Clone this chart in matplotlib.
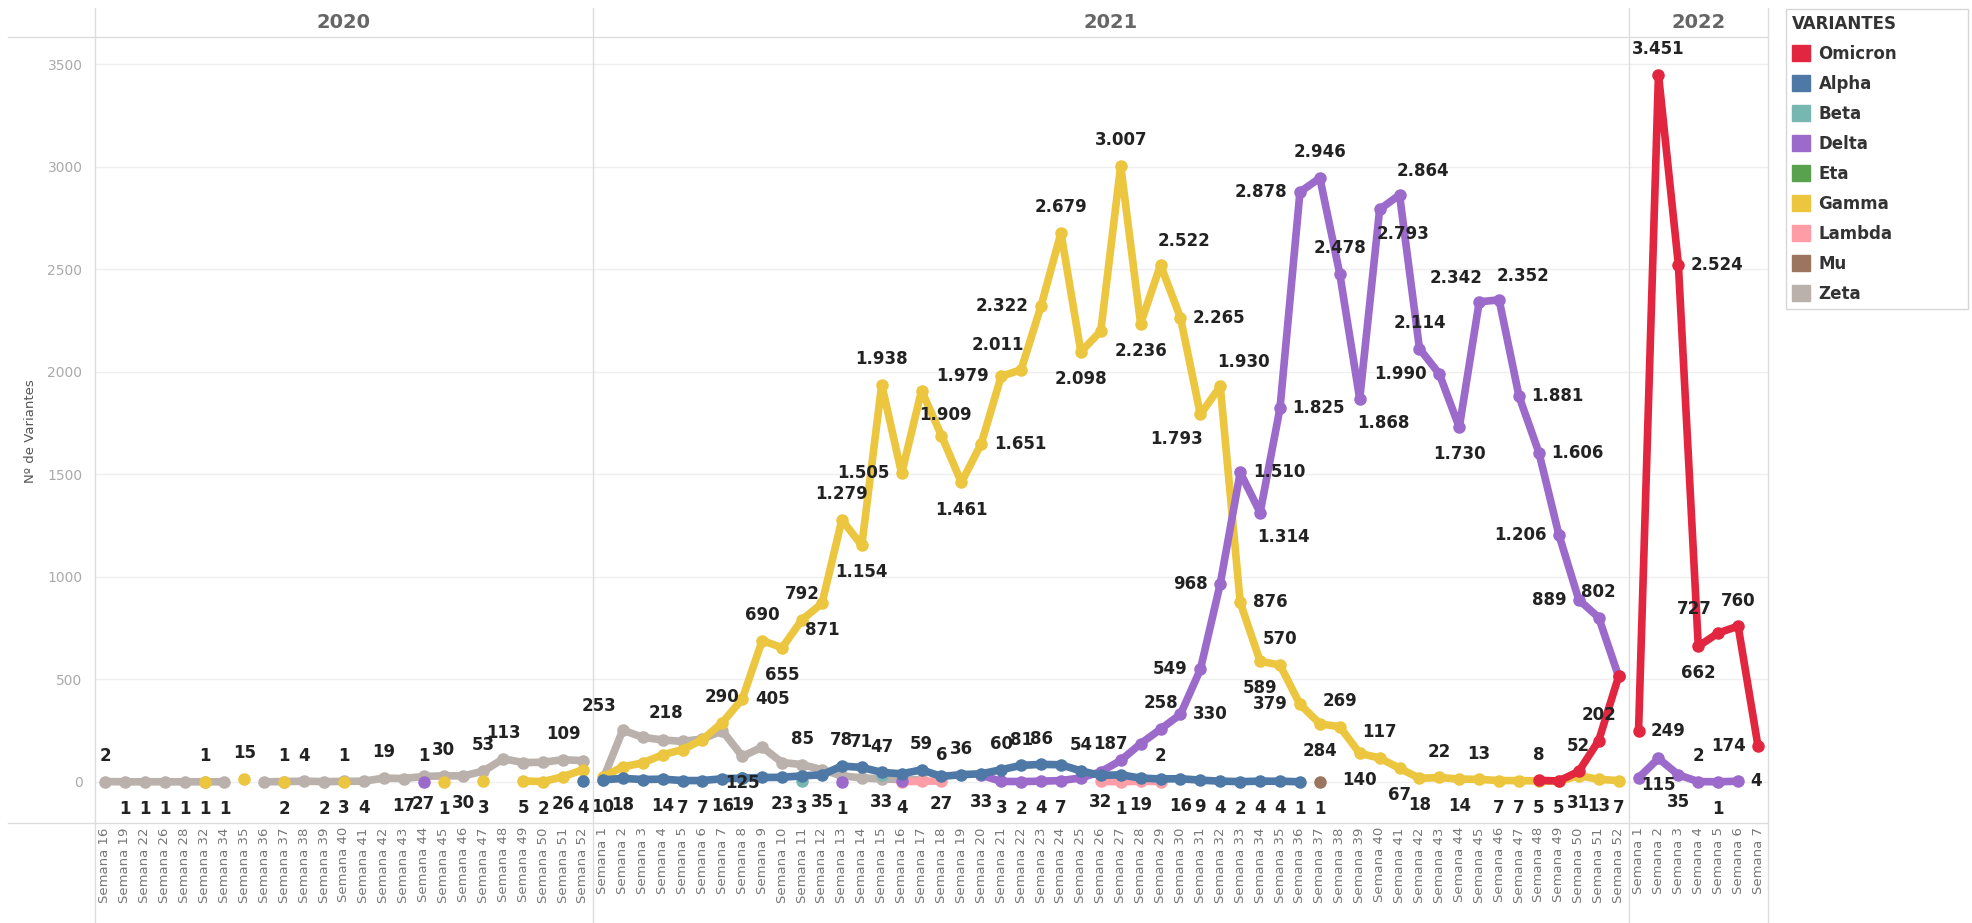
import matplotlib
matplotlib.use("Agg")
import matplotlib.pyplot as plt
from matplotlib.lines import Line2D
from matplotlib.patches import Patch

# categories (weeks shown in each year pane)
weeks_2020 = [16, 19, 22, 26, 28, 32, 34, 35, 36, 37, 38, 39, 40, 41, 42, 43, 44, 45, 46, 47, 48, 49, 50, 51, 52]
weeks_2021 = list(range(1, 53))
weeks_2022 = [1, 2, 3, 4, 5, 6, 7]

# series: weeks present, values, label placement
# a above, b below, r right, l left, p above-left, q above-right, m below-left, n below-right, . none
zeta_2020_wk = [16, 19, 22, 26, 28, 32, 34, 36, 37, 38, 39, 40, 41, 42, 43, 44, 45, 46, 47, 48, 49, 50, 51, 52]
zeta_2020 = [2, 1, 1, 1, 1, 1, 1, 1, 2, 4, 2, 3, 4, 19, 17, 27, 30, 30, 53, 113, 95, 96, 109, 104]
zeta_2020_lbl = "abbbbbb.babbbabbabaa..a."

gamma_2020_wk = [32, 35, 37, 40, 45, 47, 49, 50, 51, 52]
gamma_2020 = [1, 15, 1, 1, 1, 3, 5, 2, 26, 60]
gamma_2020_lbl = "aaaabbbbb."

delta_2020_wk = [44]
delta_2020 = [1]
delta_2020_lbl = "a"

alpha_2020_wk = [52]
alpha_2020 = [4]
alpha_2020_lbl = "b"

zeta_2021_wk = list(range(1, 18))
zeta_2021 = [12, 253, 218, 205, 198, 210, 250, 125, 170, 95, 85, 60, 30, 20, 15, 12, 10]
zeta_2021_lbl = ".pq....b..a......"

gamma_2021_wk = list(range(1, 53))
gamma_2021 = [25, 74, 93, 133, 158, 207, 290, 405, 690, 655,
              792, 871, 1279, 1154, 1938, 1505, 1909, 1690, 1461, 1651,
              1979, 2011, 2322, 2679, 2098, 2200, 3007, 2236, 2522, 2265,
              1793, 1930, 876, 589, 570, 379, 284, 269, 140, 117,
              67, 18, 22, 14, 13, 7, 7, 5, 3, 31,
              13, 7]
gamma_2021_lbl = "......arab" + "ababaln.br" + "lplab.abqr" + "mqrbalbaba" + "bbababbb.b" + "bb"

alpha_2021_wk = list(range(1, 37))
alpha_2021 = [10, 18, 12, 14, 7, 7, 16, 19, 22, 23,
              30, 35, 78, 71, 47, 40, 59, 27, 36, 40,
              60, 81, 86, 84, 54, 32, 35, 19, 15, 16,
              9, 4, 2, 4, 4, 1]
alpha_2021_lbl = "bb.bbbb..b" + ".baaa.aba." + "aaa.ab.b.b" + "bbbbbb"

beta_2021_wk = [11, 15]
beta_2021 = [3, 33]
beta_2021_lbl = "bb"

eta_2021_wk = [8]
eta_2021 = [19]
eta_2021_lbl = "b"

lambda_2021_wk = [16, 17, 18, 26, 27, 28, 29]
lambda_2021 = [2, 3, 6, 3, 1, 4, 2]
lambda_2021_lbl = "..a.b.a"

mu_2021_wk = [37]
mu_2021 = [1]
mu_2021_lbl = "b"

delta_2021_wk = [13, 16] + list(range(20, 53))
delta_2021 = [1, 4,
              33, 3, 2, 4, 7, 20, 50, 105, 187, 258,
              330, 549, 968, 1510, 1314, 1825, 2878, 2946, 2478, 1868,
              2793, 2864, 2114, 1990, 1730, 2342, 2352, 1881, 1606, 1206,
              889, 802, 515]
delta_2021_lbl = "bb" + "bbbbb...la" + "rllrnrlaan" + "nqalbpqrrl" + "la."

omicron_2021_wk = [48, 49, 50, 51, 52]
omicron_2021 = [8, 5, 52, 202, 515]
omicron_2021_lbl = "abaa."

delta_2022_wk = [1, 2, 3, 4, 5, 6]
delta_2022 = [20, 115, 35, 2, 1, 4]
delta_2022_lbl = ".bbabr"

omicron_2022_wk = [1, 2, 3, 4, 5, 6, 7]
omicron_2022 = [249, 3451, 2524, 662, 727, 760, 174]
omicron_2022_lbl = "rarbpal"

variants = ["Omicron", "Alpha", "Beta", "Delta", "Eta", "Gamma", "Lambda", "Mu", "Zeta"]
colors = {"Omicron": "#E3263F", "Alpha": "#4E79A7", "Beta": "#76B7B2", "Delta": "#9C6ACB",
          "Eta": "#59A14F", "Gamma": "#EBC63E", "Lambda": "#FF9DA7", "Mu": "#9C755F",
          "Zeta": "#BAB0AC"}
zorders = {"Zeta": 2, "Gamma": 3, "Lambda": 4, "Beta": 4, "Eta": 4, "Mu": 4,
           "Delta": 5, "Alpha": 6, "Omicron": 7}

W, H = 1972, 923
fig = plt.figure(figsize=(W / 100, H / 100), dpi=100)
fig.patch.set_facecolor("white")

x0, x1 = 95, 1768
top, bottom = 37, 823
step = (x1 - x0) / 84.0
panes = [("2020", weeks_2020), ("2021", weeks_2021), ("2022", weeks_2022)]
axes = {}
edges = [x0]
left = x0
for name, cats in panes:
    w = step * len(cats)
    ax = fig.add_axes([left / W, 1 - bottom / H, w / W, (bottom - top) / H])
    ax.set_xlim(-0.5, len(cats) - 0.5)
    ax.set_ylim(-200, 3634)
    for s in ax.spines.values():
        s.set_visible(False)
    ax.set_yticks(range(0, 3501, 500))
    ax.yaxis.grid(True, color="#efefef", lw=1)
    ax.set_axisbelow(True)
    ax.set_xticks(range(len(cats)))
    ax.set_xticklabels(["Semana %d" % c for c in cats], rotation=90, fontsize=9.5, color="#777777")
    ax.tick_params(length=0, axis="x", pad=3)
    ax.tick_params(length=0, axis="y", pad=9, labelsize=10, labelcolor="#aaaaaa")
    if name != "2020":
        ax.set_yticklabels([])
    fig.text((left + w / 2) / W, 1 - 22 / H, name, ha="center", va="center",
             fontsize=14, fontweight="bold", color="#666666")
    axes[name] = (ax, cats)
    left += w
    edges.append(left)


def fmt(v):
    return "{:,}".format(v).replace(",", ".")


offsets = {"a": ((0, 12), "center", "bottom"), "b": ((0, -13), "center", "top"),
           "r": ((9, 0), "left", "center"), "l": ((-9, 0), "right", "center"),
           "p": ((-17, 11), "center", "bottom"), "q": ((17, 11), "center", "bottom"),
           "m": ((-17, -11), "center", "top"), "n": ((17, -11), "center", "top")}


def draw(year, variant, wk, vals, lbl):
    ax, cats = axes[year]
    xs = [cats.index(w) for w in wk]
    c = colors[variant]
    z = zorders[variant]
    runs = [[(xs[0], vals[0])]]
    for x, v in zip(xs[1:], vals[1:]):
        if x != runs[-1][-1][0] + 1:
            runs.append([])
        runs[-1].append((x, v))
    for r in runs:
        ax.plot([p[0] for p in r], [p[1] for p in r], color=c, lw=5.5, marker="o",
                markersize=8, solid_capstyle="round", solid_joinstyle="round",
                zorder=z, clip_on=False)
    for x, v, f in zip(xs, vals, lbl):
        if f == ".":
            continue
        off, ha, va = offsets[f]
        ax.annotate(fmt(v), (x, v), xytext=off, textcoords="offset points", ha=ha, va=va,
                    fontsize=12, fontweight="bold", color="#222222", zorder=10,
                    annotation_clip=False)


draw("2020", "Zeta", zeta_2020_wk, zeta_2020, zeta_2020_lbl)
draw("2020", "Gamma", gamma_2020_wk, gamma_2020, gamma_2020_lbl)
draw("2020", "Delta", delta_2020_wk, delta_2020, delta_2020_lbl)
draw("2020", "Alpha", alpha_2020_wk, alpha_2020, alpha_2020_lbl)
draw("2021", "Zeta", zeta_2021_wk, zeta_2021, zeta_2021_lbl)
draw("2021", "Gamma", gamma_2021_wk, gamma_2021, gamma_2021_lbl)
draw("2021", "Lambda", lambda_2021_wk, lambda_2021, lambda_2021_lbl)
draw("2021", "Beta", beta_2021_wk, beta_2021, beta_2021_lbl)
draw("2021", "Eta", eta_2021_wk, eta_2021, eta_2021_lbl)
draw("2021", "Mu", mu_2021_wk, mu_2021, mu_2021_lbl)
draw("2021", "Delta", delta_2021_wk, delta_2021, delta_2021_lbl)
draw("2021", "Alpha", alpha_2021_wk, alpha_2021, alpha_2021_lbl)
draw("2021", "Omicron", omicron_2021_wk, omicron_2021, omicron_2021_lbl)
draw("2022", "Delta", delta_2022_wk, delta_2022, delta_2022_lbl)
draw("2022", "Omicron", omicron_2022_wk, omicron_2022, omicron_2022_lbl)

# pane borders
lc = "#dddddd"
fig.add_artist(Line2D([8 / W, x1 / W], [1 - top / H, 1 - top / H], color=lc, lw=1))
fig.add_artist(Line2D([8 / W, x1 / W], [1 - bottom / H, 1 - bottom / H], color=lc, lw=1))
for e in edges:
    fig.add_artist(Line2D([e / W, e / W], [0, 1 - 8 / H], color=lc, lw=1))

fig.text(31 / W, 1 - 431 / H, "Nº de Variantes", rotation=90, ha="center", va="center",
         fontsize=9.5, color="#555555")

handles = [Patch(facecolor=colors[v], edgecolor=colors[v]) for v in variants]
leg = fig.legend(handles, variants, loc="upper left",
                 bbox_to_anchor=(1786 / W, 0, 182 / W, 1 - 9 / H), mode="expand",
                 title="VARIANTES", alignment="left", frameon=True, fancybox=False,
                 edgecolor="#cccccc", prop={"size": 12, "weight": "bold"},
                 title_fontproperties={"size": 12, "weight": "bold"},
                 handlelength=1.1, handleheight=1.1, labelspacing=0.72,
                 borderpad=0.35, handletextpad=0.5, borderaxespad=0)
leg.get_frame().set_linewidth(1)
for t in leg.get_texts():
    t.set_color("#333333")
leg.get_title().set_color("#333333")

fig.savefig("out.png", dpi=100, facecolor="white")
